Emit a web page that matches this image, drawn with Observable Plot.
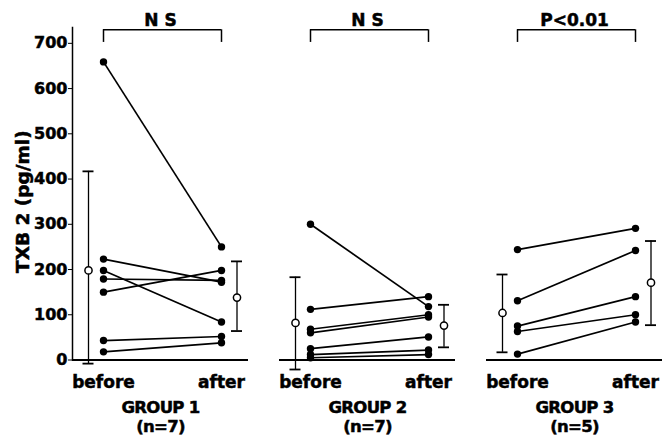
<!DOCTYPE html>
<html><head><meta charset="utf-8">
<script src="https://cdn.jsdelivr.net/npm/d3@7"></script>
<script src="https://cdn.jsdelivr.net/npm/@observablehq/plot@0.6"></script>
<style>
body{margin:0;background:#fff;overflow:hidden;}
#chart svg{font-family:"DejaVu Sans",sans-serif;font-weight:bold;color:#000;}
#chart svg text{stroke:#000;stroke-width:0.5px;}
#chart svg g[aria-label="fx-axis tick label"] text{letter-spacing:-0.7px;}
</style></head><body><div id="chart"></div>
<script>
const groups = ["GROUP 1\n(n=7)", "GROUP 2\n(n=7)", "GROUP 3\n(n=5)"];
const phases = ["before", "after"];
const sigLabels = ["N S", "N S", "P<0.01"];
const yTicks = [0, 100, 200, 300, 400, 500, 600, 700];
const yLabel = "TXB 2 (pg/ml)";

const g1Before = [659, 223, 198, 179, 150, 43, 18];
const g1After  = [250, 172, 84, 176, 198, 52, 38];
const g2Before = [300, 112, 68, 60, 25, 12, 5];
const g2After  = [118, 140, 100, 95, 51, 22, 12];
const g3Before = [244, 131, 75, 63, 13];
const g3After  = [291, 242, 140, 100, 84];

const meanBefore = [198, 82, 104];
const lowBefore  = [-8, -21, 17];
const highBefore = [417, 183, 189];
const meanAfter  = [138, 76, 171];
const lowAfter   = [64, 28, 77];
const highAfter  = [218, 122, 263];

const beforeValues = [g1Before, g2Before, g3Before];
const afterValues = [g1After, g2After, g3After];
const pairs = groups.flatMap((g, i) => beforeValues[i].map((b, j) => ({group: g, before: b, after: afterValues[i][j]})));
const points = pairs.flatMap(p => [{group: p.group, phase: "before", value: p.before}, {group: p.group, phase: "after", value: p.after}]);
const summary = groups.flatMap((g, i) => [
  {group: g, phase: "before", mean: meanBefore[i], low: lowBefore[i], high: highBefore[i]},
  {group: g, phase: "after", mean: meanAfter[i], low: lowAfter[i], high: highAfter[i]}
]);
const sig = groups.map((g, i) => ({group: g, label: sigLabels[i]}));
const bracketLegs = sig.flatMap(s => phases.map(p => ({group: s.group, phase: p})));

const yTop = 735, bracketY = 730, bracketLegY = 702;

const errMarks = phases.flatMap((ph, k) => {
  const d = summary.filter(s => s.phase === ph);
  const dx = k ? 15.5 : -15;
  const cap = {fx: "group", x1: "phase", x2: "phase", dx, insetLeft: -5.5, insetRight: -5.5, strokeWidth: 1.8};
  return [
    Plot.ruleX(d, {fx: "group", x: "phase", y1: "low", y2: "high", dx, strokeWidth: 1.3}),
    Plot.ruleY(d, {...cap, y: "low"}),
    Plot.ruleY(d, {...cap, y: "high"}),
    Plot.dot(d, {fx: "group", x: "phase", y: "mean", dx, r: 3.6, fill: "white", stroke: "black", strokeWidth: 1.5})
  ];
});

const chart = Plot.plot({
  width: 662, height: 440,
  marginLeft: 71, marginRight: 0, marginTop: 27, marginBottom: 80.5,
  x: {type: "point", domain: phases, padding: 0.244, align: 0.532},
  y: {domain: [0, yTop]},
  fx: {domain: groups, paddingInner: 0.152, paddingOuter: 0},
  marks: [
    Plot.frame({anchor: "left", facetAnchor: "left", strokeWidth: 1.5}),
    Plot.ruleY([0], {strokeWidth: 2}),
    Plot.axisY({ticks: yTicks, tickSize: 4, tickPadding: 1, label: null, fontSize: 16}),
    Plot.text([yLabel], {frameAnchor: "left", textAnchor: "middle", y: () => (yTicks[0] + yTicks[yTicks.length - 1]) / 2, rotate: -90, dx: -49, fontSize: 18.5, facetAnchor: "left"}),
    Plot.axisX({tickSize: 0, tickPadding: 15.5, label: null, fontSize: 17}),
    Plot.axisFx({anchor: "bottom", tickSize: 0, tickPadding: 39.5, label: null, fontSize: 16.5, lineHeight: 1.15}),
    Plot.link(pairs, {fx: "group", x1: () => "before", x2: () => "after", y1: "before", y2: "after", strokeWidth: 1.7}),
    Plot.dot(points, {fx: "group", x: "phase", y: "value", r: 3.7, fill: "black"}),
    ...errMarks,
    Plot.ruleY(sig, {fx: "group", y: () => bracketY, x1: () => "before", x2: () => "after", strokeWidth: 1.5}),
    Plot.ruleX(bracketLegs, {fx: "group", x: "phase", y1: () => bracketLegY, y2: () => bracketY, strokeWidth: 1.5}),
    Plot.text(sig, {fx: "group", y: () => bracketY, text: "label", dy: -9, fontSize: 17})
  ]
});
document.getElementById("chart").appendChild(chart);
</script></body></html>
